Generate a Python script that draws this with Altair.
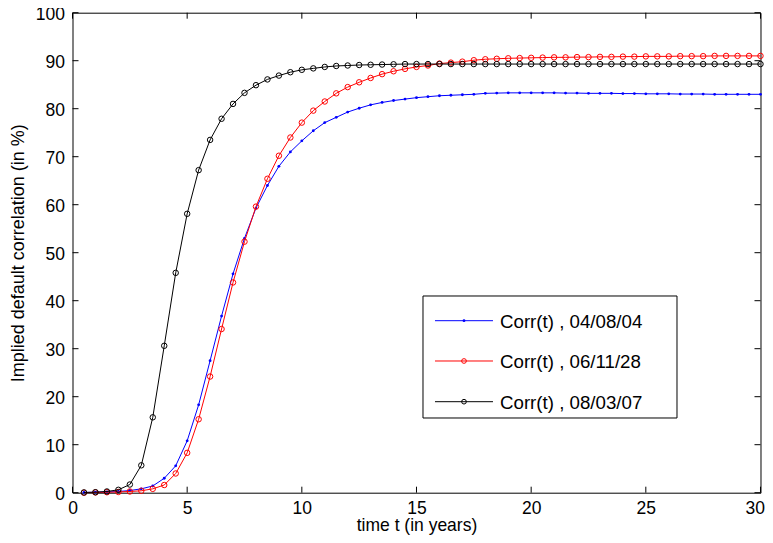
import altair as alt
import pandas as pd

# time grid (years)
t_years = [0.5, 1.0, 1.5, 2.0, 2.5, 3.0, 3.5, 4.0, 4.5, 5.0,
           5.5, 6.0, 6.5, 7.0, 7.5, 8.0, 8.5, 9.0, 9.5, 10.0,
           10.5, 11.0, 11.5, 12.0, 12.5, 13.0, 13.5, 14.0, 14.5, 15.0,
           15.5, 16.0, 16.5, 17.0, 17.5, 18.0, 18.5, 19.0, 19.5, 20.0,
           20.5, 21.0, 21.5, 22.0, 22.5, 23.0, 23.5, 24.0, 24.5, 25.0,
           25.5, 26.0, 26.5, 27.0, 27.5, 28.0, 28.5, 29.0, 29.5, 30.0]

corr_040804 = [0.05, 0.1, 0.15, 0.25, 0.45, 0.8, 1.4, 3.0, 5.6, 10.8,
               18.3, 27.5, 36.8, 45.6, 53.0, 59.3, 64.0, 68.0, 71.0, 73.3,
               75.4, 77.1, 78.2, 79.3, 80.1, 80.8, 81.3, 81.7, 82.0, 82.3,
               82.5, 82.7, 82.8, 82.9, 83.0, 83.2, 83.25, 83.3, 83.3, 83.3,
               83.3, 83.3, 83.25, 83.25, 83.2, 83.2, 83.2, 83.15, 83.15, 83.1,
               83.1, 83.1, 83.05, 83.05, 83.05, 83.0, 83.0, 83.0, 83.0, 83.0]

corr_061128 = [0.0, 0.05, 0.1, 0.15, 0.25, 0.4, 0.8, 1.6, 4.0, 8.3,
               15.3, 24.2, 34.1, 43.8, 52.3, 59.6, 65.4, 70.2, 74.0, 77.1,
               79.6, 81.5, 83.2, 84.5, 85.5, 86.4, 87.2, 87.8, 88.3, 88.7,
               89.0, 89.4, 89.6, 89.8, 90.1, 90.3, 90.4, 90.5, 90.55, 90.6,
               90.65, 90.7, 90.7, 90.75, 90.75, 90.8, 90.8, 90.85, 90.85, 90.9,
               90.9, 90.9, 90.95, 90.95, 90.95, 91.0, 91.0, 91.0, 91.0, 91.0]

corr_080307 = [0.05, 0.1, 0.25, 0.6, 1.7, 5.7, 15.7, 30.6, 45.8, 58.1,
               67.2, 73.5, 77.9, 81.0, 83.3, 84.9, 86.1, 86.9, 87.6, 88.1,
               88.4, 88.7, 88.9, 89.0, 89.1, 89.15, 89.2, 89.25, 89.3, 89.3,
               89.3, 89.3, 89.3, 89.3, 89.3, 89.3, 89.3, 89.3, 89.3, 89.3,
               89.3, 89.3, 89.3, 89.3, 89.3, 89.3, 89.3, 89.3, 89.3, 89.3,
               89.3, 89.3, 89.3, 89.3, 89.3, 89.3, 89.3, 89.3, 89.3, 89.3]

series_names = ["Corr(t) , 04/08/04", "Corr(t) , 06/11/28", "Corr(t) , 08/03/07"]
series_values = [corr_040804, corr_061128, corr_080307]
series_colors = ["#0000FF", "#FF0000", "#000000"]
series_open = [False, True, True]

x_ticks = [0, 5, 10, 15, 20, 25, 30]
y_ticks = [0, 10, 20, 30, 40, 50, 60, 70, 80, 90, 100]

W, H = 688, 480
FONT = "Liberation Sans"
FS = 17.5

xscale = alt.Scale(domain=[0, 30], nice=False, zero=False)
yscale = alt.Scale(domain=[0, 100], nice=False)

layers = []

# axes (labels only) via an invisible layer
axis_df = pd.DataFrame({"t": [0, 30], "v": [0, 100]})
axes = alt.Chart(axis_df).mark_point(opacity=0).encode(
    x=alt.X("t:Q", scale=xscale,
            axis=alt.Axis(values=x_ticks, title="time t (in years)", ticks=False, tickSize=0,
                          labelBaseline="alphabetic", labelPadding=21,
                          labelAlign=alt.ExprRef(expr="datum.value === 30 ? 'right' : 'center'"),
                          labelOffset=alt.ExprRef(expr="datum.value === 30 ? 4 : 0"),
                          titleBaseline="alphabetic", titleY=38.3,
                          labelFlush=False)),
    y=alt.Y("v:Q", scale=yscale,
            axis=alt.Axis(values=y_ticks, title="Implied default correlation (in %)",
                          ticks=False, tickSize=0, labelPadding=8, labelOffset=2,
                          titleX=-54.5, titleBaseline="middle", titleFontSize=18,
                          labelFlush=False)),
)
layers.append(axes)

# inward tick marks on all four sides
xt = pd.DataFrame({"t": x_ticks})
yt = pd.DataFrame({"v": y_ticks})
layers.append(alt.Chart(xt).mark_rule(color="black", strokeWidth=1).encode(
    x=alt.X("t:Q", scale=xscale), y=alt.value(H), y2=alt.value(H - 6)))
layers.append(alt.Chart(xt).mark_rule(color="black", strokeWidth=1).encode(
    x=alt.X("t:Q", scale=xscale), y=alt.value(0), y2=alt.value(6)))
layers.append(alt.Chart(yt).mark_rule(color="black", strokeWidth=1).encode(
    y=alt.Y("v:Q", scale=yscale), x=alt.value(0), x2=alt.value(6)))
layers.append(alt.Chart(yt).mark_rule(color="black", strokeWidth=1).encode(
    y=alt.Y("v:Q", scale=yscale), x=alt.value(W), x2=alt.value(W - 6)))

# data series
for name, vals, col, is_open in zip(series_names, series_values, series_colors, series_open):
    d = pd.DataFrame({"t": t_years, "v": vals, "series": name})
    line = alt.Chart(d).mark_line(color=col, strokeWidth=1).encode(
        x=alt.X("t:Q", scale=xscale), y=alt.Y("v:Q", scale=yscale))
    if is_open:
        pts = alt.Chart(d).mark_point(shape="circle", filled=False, color=col,
                                      size=30, strokeWidth=1, opacity=1).encode(
            x=alt.X("t:Q", scale=xscale), y=alt.Y("v:Q", scale=yscale))
    else:
        pts = alt.Chart(d).mark_point(shape="circle", filled=True, color=col,
                                      size=8, opacity=1).encode(
            x=alt.X("t:Q", scale=xscale), y=alt.Y("v:Q", scale=yscale))
    layers += [line, pts]

# legend box
box_df = pd.DataFrame({"a": [0]})
layers.append(alt.Chart(box_df).mark_rect(fill="white", stroke="black", strokeWidth=1).encode(
    x=alt.value(350.5), x2=alt.value(604.5), y=alt.value(283.3), y2=alt.value(405.3)))

leg_rows = [308.0, 348.3, 389.0]
for name, col, is_open, py in zip(series_names, series_colors, series_open, leg_rows):
    ld = pd.DataFrame({"name": [name]})
    layers.append(alt.Chart(ld).mark_rule(color=col, strokeWidth=1).encode(
        x=alt.value(362.5), x2=alt.value(420.5), y=alt.value(py)))
    if is_open:
        layers.append(alt.Chart(ld).mark_point(shape="circle", filled=False, color=col,
                                               size=22, strokeWidth=1, opacity=1).encode(
            x=alt.value(391.5), y=alt.value(py)))
    else:
        layers.append(alt.Chart(ld).mark_point(shape="circle", filled=True, color=col,
                                               size=8, opacity=1).encode(
            x=alt.value(391.5), y=alt.value(py)))
    layers.append(alt.Chart(ld).mark_text(align="left", baseline="middle", fontSize=18.7,
                                          font=FONT, color="black").encode(
        x=alt.value(427.5), y=alt.value(py + 1), text="name:N"))

chart = alt.layer(*layers).properties(
    width=W, height=H,
    autosize=alt.AutoSizeParams(type="none"),
    padding={"left": 64.5, "top": 4.7, "right": 4.5, "bottom": 42},
).configure_view(stroke="black", strokeWidth=1).configure_axis(
    domain=False, grid=False, labelFont=FONT, titleFont=FONT,
    labelFontSize=FS, titleFontSize=FS, labelColor="black", titleColor="black",
    titleFontWeight="normal",
)

chart.save("out.html", embed_options={"renderer": "svg", "actions": False})
